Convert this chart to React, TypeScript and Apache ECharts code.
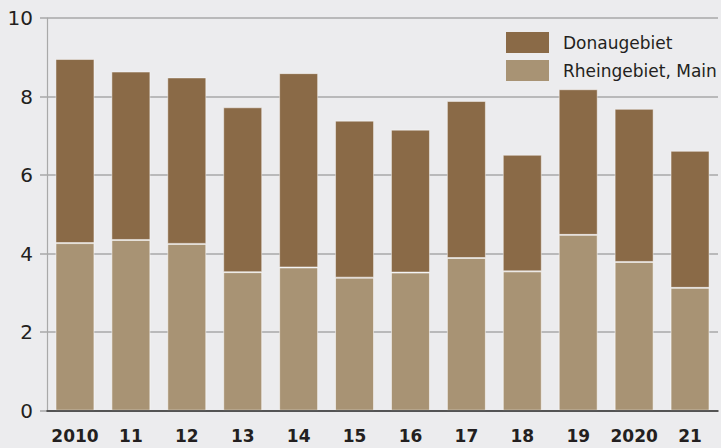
import React, { useEffect, useRef } from "react";
import * as echarts from "echarts";

const categories = ["2010", "11", "12", "13", "14", "15", "16", "17", "18", "19", "2020", "21"];
const rheinMain = [4.27, 4.35, 4.25, 3.53, 3.65, 3.39, 3.52, 3.89, 3.55, 4.48, 3.79, 3.13];
const donau = [4.69, 4.29, 4.24, 4.2, 4.95, 4.0, 3.64, 4.0, 2.97, 3.71, 3.9, 3.49];
const yTicks = { min: 0, max: 10, interval: 2 };

const FONT = "DejaVu Sans";
const TEXT = "#231f20";

export default function App() {
  const ref = useRef<HTMLDivElement>(null);
  useEffect(() => {
    document.body.style.margin = "0";
    const chart = echarts.init(ref.current!, null, { renderer: "svg" });
    chart.setOption({
      animation: false,
      backgroundColor: "#ececee",
      grid: { left: 47, right: 3, top: 18.2, bottom: 37.3, containLabel: false },
      legend: {
        orient: "vertical",
        left: 506,
        top: 32,
        padding: 0,
        icon: "rect",
        itemWidth: 43,
        itemHeight: 21,
        itemGap: 7,
        data: ["Donaugebiet", "Rheingebiet, Main"],
        textStyle: { fontFamily: FONT, fontSize: 17, color: TEXT, padding: [0, 0, 0, 9] },
        itemStyle: { borderWidth: 0 },
      },
      xAxis: {
        type: "category",
        data: categories,
        axisTick: { show: false },
        axisLine: { lineStyle: { color: "#333333", width: 1.5 } },
        axisLabel: { interval: 0, fontFamily: FONT, fontSize: 17, fontWeight: "bold", color: TEXT, margin: 17 },
        z: 5,
      },
      yAxis: {
        type: "value",
        min: yTicks.min,
        max: yTicks.max,
        interval: yTicks.interval,
        axisLine: { show: true, lineStyle: { color: "#a9a9a9", width: 1.2 } },
        axisTick: { show: true, length: 7, lineStyle: { color: "#a9a9a9", width: 1.5 } },
        splitLine: { show: true, lineStyle: { color: "#a9a9a9", width: 1.5 } },
        axisLabel: { fontFamily: FONT, fontSize: 20, color: TEXT, margin: 14 },
      },
      series: [
        {
          name: "Rheingebiet, Main",
          type: "bar",
          stack: "total",
          data: rheinMain,
          barWidth: 39,
          itemStyle: { color: "#a89374", borderColor: "rgba(255,255,255,0.55)", borderWidth: 1 },
        },
        {
          name: "Donaugebiet",
          type: "bar",
          stack: "total",
          data: donau,
          barWidth: 39,
          itemStyle: { color: "#8a6a47", borderColor: "rgba(255,255,255,0.45)", borderWidth: 1 },
        },
      ],
    });
    return () => chart.dispose();
  }, []);
  return <div ref={ref} style={{ position: "absolute", left: 0, top: 0, width: 721, height: 448 }} />;
}
